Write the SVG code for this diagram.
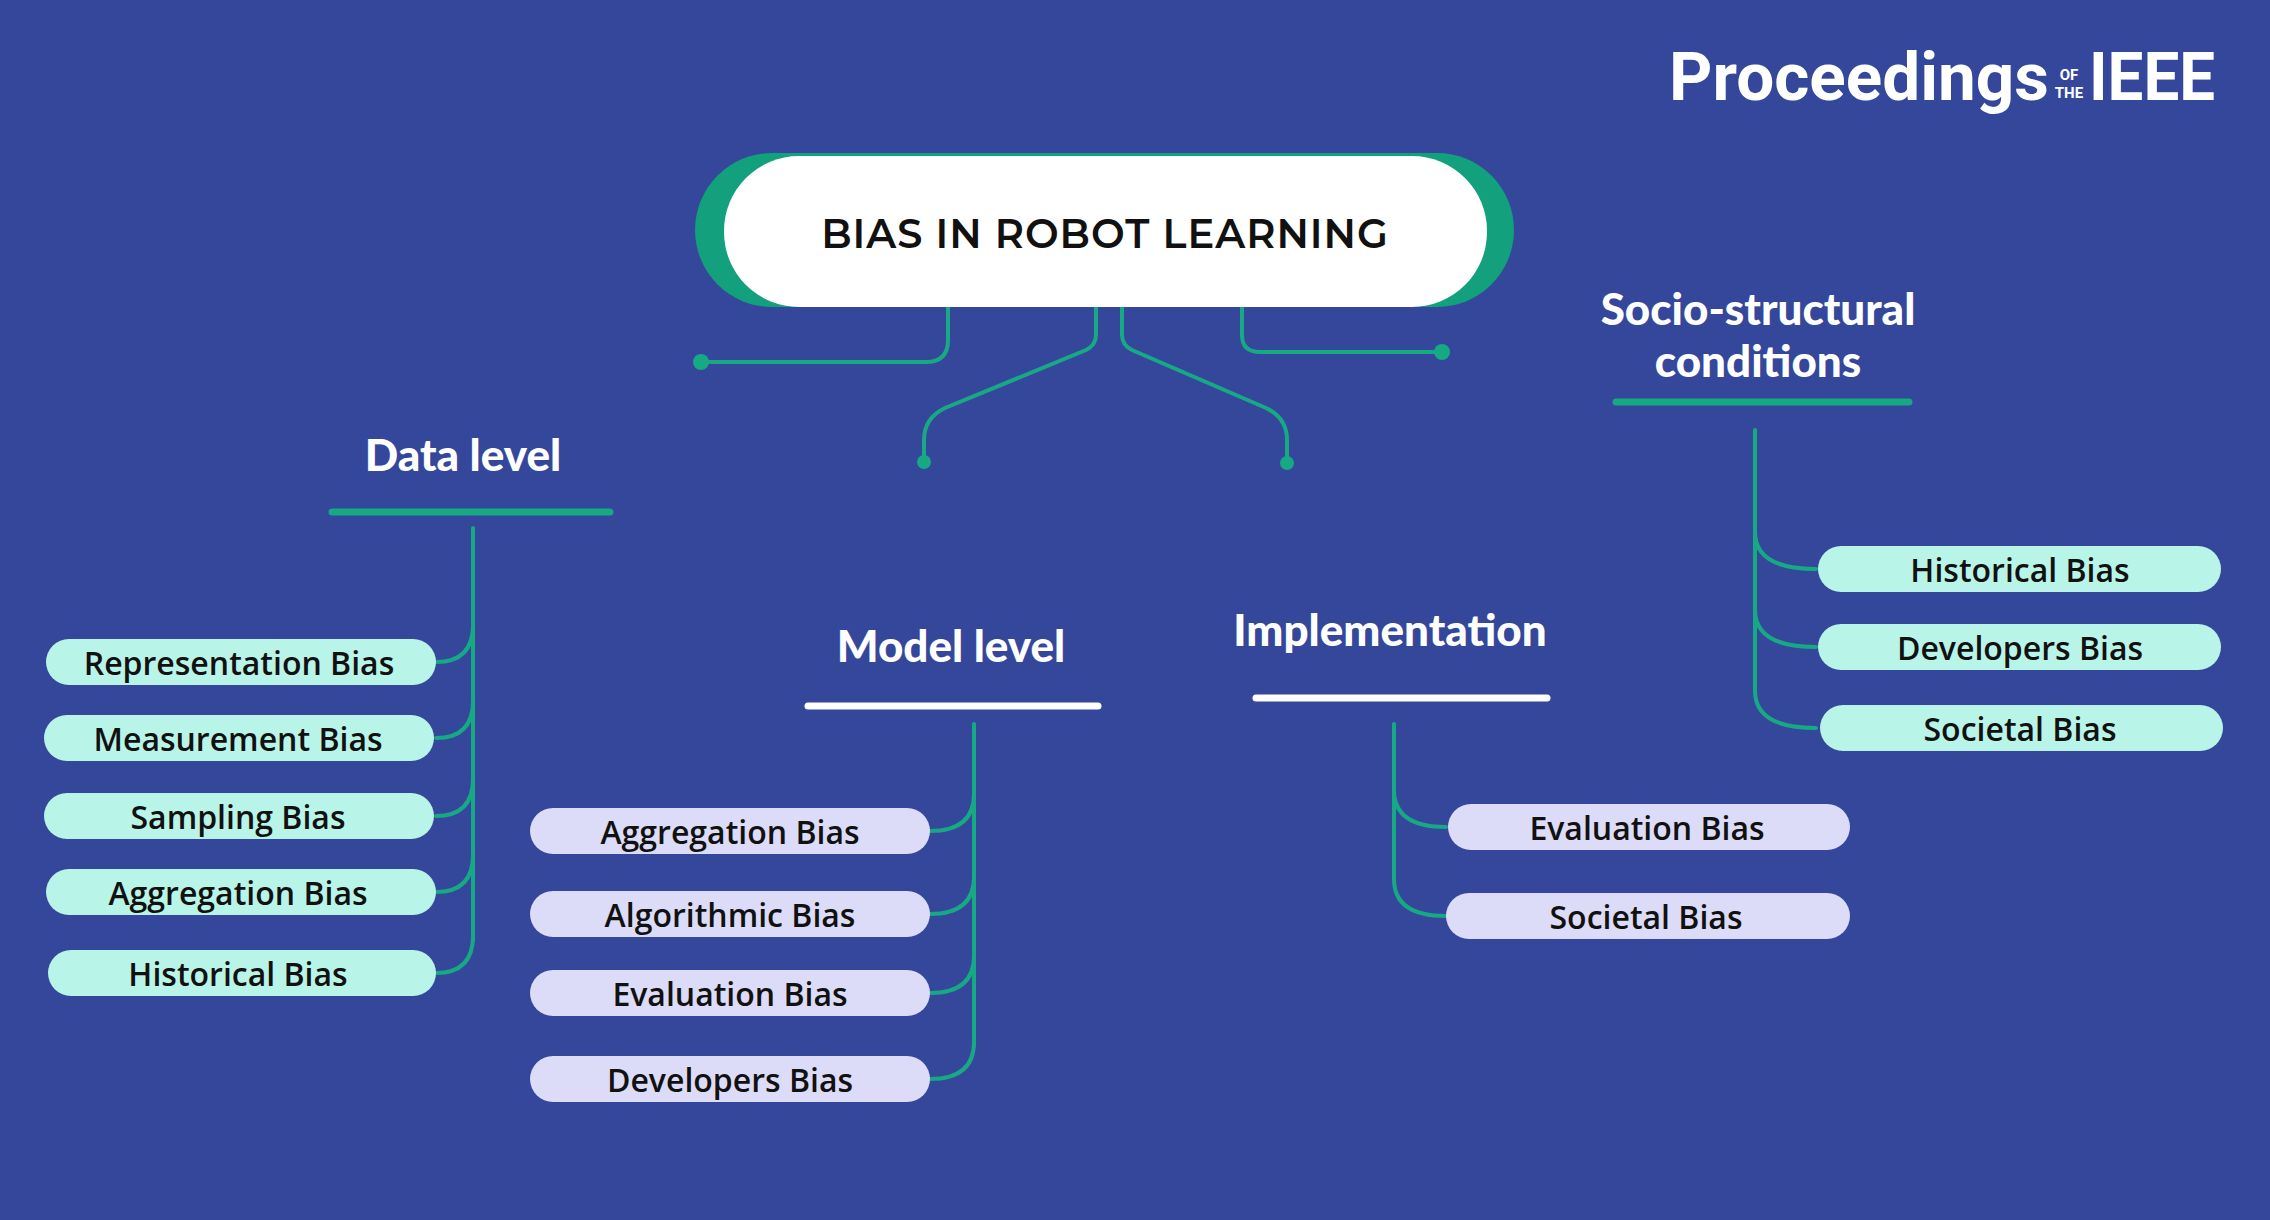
<svg xmlns="http://www.w3.org/2000/svg" width="2270" height="1220" viewBox="0 0 2270 1220">
<defs>
<style>
.bg{fill:#34479b}
.ln{fill:none;stroke:#17a983;stroke-width:4;stroke-linecap:round}
.dot{fill:#17a983}
.h{font-family:Lato,"Liberation Sans",sans-serif;font-weight:900;font-size:44px;fill:#fff;text-anchor:middle}
.it{font-family:"Open Sans","Liberation Sans",sans-serif;font-weight:600;font-size:32px;fill:#111;text-anchor:middle;dominant-baseline:central}
.mint{fill:#b9f4e8}
.lav{fill:#dcdcf8}
.ug{stroke:#17a983;stroke-width:7;stroke-linecap:round}
.uw{stroke:#fff;stroke-width:7;stroke-linecap:round}
</style>
</defs>
<rect class="bg" width="2270" height="1220"/>
<g id="logo" font-family="Roboto,'Liberation Sans',sans-serif" font-weight="700" fill="#fff">
<text x="1669" y="100" font-size="66" textLength="380" lengthAdjust="spacingAndGlyphs">Proceedings</text>
<text x="2069" y="80" font-size="15" text-anchor="middle">OF</text>
<text x="2069" y="98" font-size="15" text-anchor="middle">THE</text>
<text x="2089" y="100" font-size="66" textLength="126" lengthAdjust="spacingAndGlyphs">IEEE</text>
</g>
<g id="connectors">
<path class="ln" d="M948,307 V340 Q948,362 926,362 H701"/>
<path class="ln" d="M1096,307 V335 Q1096,345 1086,350 L945,408 Q924,418 924,440 V462"/>
<path class="ln" d="M1122,307 V335 Q1122,345 1132,350 L1266,408 Q1287,418 1287,440 V463"/>
<path class="ln" d="M1242,307 V335 Q1242,352 1260,352 H1442"/>
<circle class="dot" cx="701" cy="362" r="8"/>
<circle class="dot" cx="924" cy="462" r="7"/>
<circle class="dot" cx="1287" cy="463" r="7"/>
<circle class="dot" cx="1442" cy="352" r="8"/>
<path class="ln" d="M473,528 V940"/>
<path class="ln" d="M473,625 Q473,662 436,662 M473,701 Q473,738 436,738 M473,779 Q473,816 436,816 M473,855 Q473,892 436,892 M473,936 Q473,973 436,973"/>
<path class="ln" d="M974,724 V1045"/>
<path class="ln" d="M974,794 Q974,831 930,831 M974,877 Q974,914 930,914 M974,956 Q974,993 930,993 M974,1042 Q974,1079 930,1079"/>
<path class="ln" d="M1394,724 V880"/>
<path class="ln" d="M1394,790 Q1394,827 1446,827 M1394,879 Q1394,916 1446,916"/>
<path class="ln" d="M1755,430 V692"/>
<path class="ln" d="M1755,532 Q1755,569 1816,569 M1755,610 Q1755,647 1816,647 M1755,691 Q1755,728 1816,728"/>
</g>
<g id="root">
<rect x="695" y="153" width="819" height="154" rx="77" fill="#13a07c"/>
<rect x="724" y="156" width="763" height="151" rx="75" fill="#fff"/>
<text x="1105" y="233" font-family="Montserrat,'Open Sans','Liberation Sans',sans-serif" font-weight="600" font-size="40" fill="#111" text-anchor="middle" dominant-baseline="central" letter-spacing="1">BIAS IN ROBOT LEARNING</text>
</g>
<g id="data-level">
<text class="h" x="463" y="471">Data level</text>
<line class="ug" x1="332" y1="512" x2="610" y2="512"/>
</g>
<g id="model-level">
<text class="h" x="951" y="662">Model level</text>
<line class="uw" x1="808" y1="706" x2="1098" y2="706"/>
</g>
<g id="implementation">
<text class="h" x="1390" y="646">Implementation</text>
<line class="uw" x1="1256" y1="698" x2="1547" y2="698"/>
</g>
<g id="socio">
<text class="h" x="1758" y="325">Socio-structural</text>
<text class="h" x="1758" y="377">conditions</text>
<line class="ug" x1="1616" y1="402" x2="1909" y2="402"/>
</g>
<g id="data-items">
<g id="d1"><rect class="mint" x="46" y="639" width="390" height="46" rx="23"/><text class="it" x="239" y="662">Representation Bias</text></g>
<g id="d2"><rect class="mint" x="44" y="715" width="390" height="46" rx="23"/><text class="it" x="238" y="738">Measurement Bias</text></g>
<g id="d3"><rect class="mint" x="44" y="793" width="390" height="46" rx="23"/><text class="it" x="238" y="816">Sampling Bias</text></g>
<g id="d4"><rect class="mint" x="46" y="869" width="390" height="46" rx="23"/><text class="it" x="238" y="892">Aggregation Bias</text></g>
<g id="d5"><rect class="mint" x="48" y="950" width="388" height="46" rx="23"/><text class="it" x="238" y="973">Historical Bias</text></g>
</g>
<g id="model-items">
<g id="m1"><rect class="lav" x="530" y="808" width="400" height="46" rx="23"/><text class="it" x="730" y="831">Aggregation Bias</text></g>
<g id="m2"><rect class="lav" x="530" y="891" width="400" height="46" rx="23"/><text class="it" x="730" y="914">Algorithmic Bias</text></g>
<g id="m3"><rect class="lav" x="530" y="970" width="400" height="46" rx="23"/><text class="it" x="730" y="993">Evaluation Bias</text></g>
<g id="m4"><rect class="lav" x="530" y="1056" width="400" height="46" rx="23"/><text class="it" x="730" y="1079">Developers Bias</text></g>
</g>
<g id="impl-items">
<g id="i1"><rect class="lav" x="1448" y="804" width="402" height="46" rx="23"/><text class="it" x="1647" y="827">Evaluation Bias</text></g>
<g id="i2"><rect class="lav" x="1446" y="893" width="404" height="46" rx="23"/><text class="it" x="1646" y="916">Societal Bias</text></g>
</g>
<g id="socio-items">
<g id="s1"><rect class="mint" x="1818" y="546" width="403" height="46" rx="23"/><text class="it" x="2020" y="569">Historical Bias</text></g>
<g id="s2"><rect class="mint" x="1818" y="624" width="403" height="46" rx="23"/><text class="it" x="2020" y="647">Developers Bias</text></g>
<g id="s3"><rect class="mint" x="1820" y="705" width="403" height="46" rx="23"/><text class="it" x="2020" y="728">Societal Bias</text></g>
</g>
</svg>
